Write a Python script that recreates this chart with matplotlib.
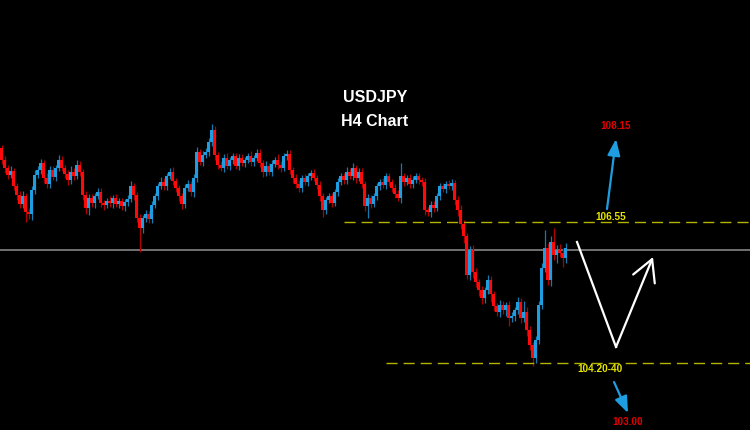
import matplotlib
matplotlib.use("Agg")
import matplotlib.pyplot as plt
import numpy as np

# ---------------- data (USDJPY H4, prices) ----------------
first_open = 107.73
closes = [
    107.54, 107.41, 107.30, 107.36, 107.12, 106.98, 106.84, 106.96, 106.71, 106.68,
    107.06, 107.30, 107.38, 107.49, 107.25, 107.16, 107.38, 107.27, 107.41, 107.54,
    107.41, 107.32, 107.22, 107.35, 107.28, 107.46, 107.35, 106.98, 106.77, 106.93,
    106.85, 106.96, 107.03, 106.85, 106.82, 106.88, 106.85, 106.93, 106.84, 106.88,
    106.80, 106.87, 106.92, 107.12, 106.98, 106.61, 106.45, 106.61, 106.68, 106.60,
    106.82, 106.96, 107.12, 107.19, 107.12, 107.28, 107.35, 107.20, 107.09, 106.96,
    106.84, 107.09, 107.16, 107.03, 107.25, 107.67, 107.51, 107.62, 107.67, 107.83,
    108.02, 107.62, 107.46, 107.41, 107.57, 107.44, 107.54, 107.60, 107.44, 107.57,
    107.49, 107.54, 107.60, 107.51, 107.57, 107.65, 107.49, 107.35, 107.44, 107.35,
    107.48, 107.54, 107.46, 107.41, 107.60, 107.64, 107.38, 107.25, 107.16, 107.09,
    107.25, 107.19, 107.28, 107.33, 107.25, 107.14, 106.96, 106.74, 106.90, 106.96,
    106.85, 107.03, 107.19, 107.28, 107.22, 107.35, 107.28, 107.41, 107.25, 107.35,
    107.16, 106.80, 106.93, 106.84, 106.96, 107.12, 107.19, 107.14, 107.28, 107.19,
    107.09, 107.00, 106.93, 107.28, 107.19, 107.25, 107.16, 107.22, 107.28, 107.22,
    107.19, 106.74, 106.71, 106.82, 106.77, 106.96, 107.12, 107.08, 107.16, 107.12,
    107.17, 106.90, 106.74, 106.52, 106.32, 105.70, 106.10, 105.75, 105.59, 105.46,
    105.33, 105.46, 105.62, 105.40, 105.20, 105.11, 105.22, 105.14, 105.22, 105.01,
    105.04, 105.14, 105.27, 105.01, 105.11, 104.82, 104.58, 104.37, 104.66, 105.22,
    105.81, 106.13, 105.62, 106.23, 106.02, 106.10, 106.05, 105.97, 106.13,
]
wick_up = [
    0.05, 0.06, 0.05, 0.08, 0.06, 0.05, 0.06, 0.08, 0.06, 0.06,
    0.06, 0.08, 0.06, 0.06, 0.05, 0.08, 0.06, 0.06, 0.05, 0.08,
    0.06, 0.05, 0.06, 0.09, 0.06, 0.08, 0.06, 0.05, 0.06, 0.06,
    0.06, 0.05, 0.06, 0.06, 0.05, 0.06, 0.08, 0.05, 0.06, 0.05,
    0.06, 0.05, 0.06, 0.08, 0.06, 0.05, 0.06, 0.05, 0.06, 0.05,
    0.06, 0.05, 0.06, 0.08, 0.06, 0.05, 0.06, 0.08, 0.06, 0.05,
    0.05, 0.06, 0.06, 0.05, 0.06, 0.08, 0.05, 0.06, 0.06, 0.06,
    0.10, 0.06, 0.05, 0.06, 0.06, 0.08, 0.05, 0.06, 0.05, 0.06,
    0.06, 0.05, 0.06, 0.08, 0.05, 0.06, 0.06, 0.05, 0.08, 0.06,
    0.06, 0.05, 0.10, 0.06, 0.05, 0.06, 0.06, 0.05, 0.06, 0.06,
    0.05, 0.06, 0.06, 0.05, 0.06, 0.05, 0.06, 0.06, 0.05, 0.06,
    0.06, 0.05, 0.06, 0.06, 0.05, 0.08, 0.06, 0.08, 0.05, 0.06,
    0.06, 0.05, 0.06, 0.05, 0.06, 0.06, 0.05, 0.06, 0.06, 0.05,
    0.05, 0.06, 0.06, 0.21, 0.06, 0.05, 0.06, 0.06, 0.05, 0.06,
    0.05, 0.06, 0.05, 0.06, 0.06, 0.05, 0.06, 0.06, 0.05, 0.06,
    0.06, 0.05, 0.06, 0.08, 0.06, 0.05, 0.06, 0.08, 0.06, 0.05,
    0.06, 0.05, 0.08, 0.06, 0.05, 0.06, 0.08, 0.06, 0.05, 0.06,
    0.06, 0.05, 0.08, 0.06, 0.18, 0.08, 0.06, 0.05, 0.06, 0.06,
    0.08, 0.29, 0.08, 0.10, 0.22, 0.08, 0.10, 0.08, 0.08,
]
wick_dn = [
    0.06, 0.08, 0.06, 0.05, 0.06, 0.08, 0.06, 0.06, 0.16, 0.09,
    0.10, 0.06, 0.05, 0.06, 0.08, 0.06, 0.06, 0.05, 0.06, 0.05,
    0.05, 0.06, 0.08, 0.06, 0.06, 0.05, 0.06, 0.08, 0.10, 0.11,
    0.06, 0.08, 0.05, 0.06, 0.08, 0.05, 0.06, 0.08, 0.05, 0.06,
    0.06, 0.08, 0.06, 0.05, 0.08, 0.06, 0.38, 0.08, 0.06, 0.06,
    0.06, 0.05, 0.06, 0.05, 0.06, 0.06, 0.05, 0.06, 0.06, 0.08,
    0.09, 0.06, 0.05, 0.06, 0.08, 0.06, 0.05, 0.06, 0.05, 0.06,
    0.06, 0.08, 0.06, 0.05, 0.06, 0.05, 0.06, 0.06, 0.05, 0.06,
    0.05, 0.06, 0.05, 0.06, 0.06, 0.05, 0.06, 0.08, 0.06, 0.05,
    0.06, 0.05, 0.06, 0.06, 0.05, 0.06, 0.06, 0.08, 0.06, 0.06,
    0.06, 0.05, 0.06, 0.06, 0.05, 0.06, 0.08, 0.11, 0.06, 0.05,
    0.06, 0.05, 0.06, 0.05, 0.06, 0.06, 0.05, 0.06, 0.08, 0.05,
    0.06, 0.08, 0.18, 0.06, 0.05, 0.06, 0.06, 0.05, 0.06, 0.06,
    0.06, 0.06, 0.05, 0.08, 0.06, 0.05, 0.06, 0.06, 0.05, 0.06,
    0.06, 0.08, 0.06, 0.08, 0.06, 0.05, 0.06, 0.05, 0.06, 0.05,
    0.06, 0.08, 0.10, 0.09, 0.10, 0.06, 0.08, 0.09, 0.08, 0.10,
    0.10, 0.08, 0.06, 0.13, 0.08, 0.06, 0.08, 0.06, 0.10, 0.13,
    0.06, 0.08, 0.06, 0.08, 0.06, 0.09, 0.08, 0.13, 0.08, 0.06,
    0.06, 0.06, 0.08, 0.10, 0.08, 0.13, 0.06, 0.14, 0.08,
]

title_lines = ["USDJPY", "H4 Chart"]
resistance = 106.55
support = 104.30
current_price = 106.10
label_resistance = "106.55"
label_support = "104.20-40"
label_up_target = "108.15"
label_down_target = "103.00"

# ---------------- derived OHLC ----------------
closes = np.array(closes)
opens = np.concatenate([[first_open], closes[:-1]])
highs = np.maximum(opens, closes) + np.array(wick_up)
lows = np.minimum(opens, closes) - np.array(wick_dn)
n = len(closes)
idx = np.arange(n)
up = closes >= opens

BLUE = "#1e9ee0"
RED = "#ff0a0a"
BLUE_W = "#137bb0"
RED_W = "#b00000"

fig = plt.figure(figsize=(7.5, 4.3), dpi=100, facecolor="black")
ax = fig.add_axes([0, 0, 1, 1])
ax.set_facecolor("black")
ax.set_xlim(-0.5, 249.5)
ax.set_ylim(103.22, 110.10)
ax.axis("off")

# current price line
ax.axhline(current_price, color="#7a7a7a", lw=1.3, zorder=1)

# wicks
ax.vlines(idx[up], lows[up], highs[up], color=BLUE_W, lw=0.9, zorder=2)
ax.vlines(idx[~up], lows[~up], highs[~up], color=RED_W, lw=0.9, zorder=2)

# bodies
body_bottom = np.minimum(opens, closes)
body_h = np.maximum(np.abs(closes - opens), 0.018)
ax.bar(idx[up], body_h[up], bottom=body_bottom[up], width=0.8,
       color=BLUE, linewidth=0, zorder=3)
ax.bar(idx[~up], body_h[~up], bottom=body_bottom[~up], width=0.8,
       color=RED, linewidth=0, zorder=3)

# support / resistance dashed lines
YEL = "#b4b400"
l1, = ax.plot([114, 249.5], [resistance, resistance], color=YEL, lw=1.0, zorder=2)
l1.set_dashes((8, 4.3))
l2, = ax.plot([128, 249.5], [support, support], color=YEL, lw=1.0, zorder=2)
l2.set_dashes((8, 4.3))

# helper: pixel -> figure fraction
W, H = 750.0, 430.0
def fp(x, y):
    return (x / W, 1 - y / H)

font = dict(family=["Liberation Sans", "DejaVu Sans"], weight="bold")

# title
fig.text(*fp(375, 98), title_lines[0], color="white", fontsize=11.5,
         ha="center", va="center", **font)
fig.text(*fp(375, 122), title_lines[1], color="white", fontsize=11.5,
         ha="center", va="center", **font)

# level labels
fig.text(*fp(611, 217), label_resistance, color="#e6e600", fontsize=7.2,
         ha="center", va="center", **font)
fig.text(*fp(600, 369), label_support, color="#e6e600", fontsize=7.2,
         ha="center", va="center", **font)
fig.text(*fp(616, 126), label_up_target, color="#e00000", fontsize=7.2,
         ha="center", va="center", **font)
fig.text(*fp(628, 422), label_down_target, color="#e00000", fontsize=7.2,
         ha="center", va="center", **font)

# blue arrows
ax.annotate("", xy=fp(616, 139), xytext=fp(607, 209),
            xycoords="figure fraction", textcoords="figure fraction",
            arrowprops=dict(arrowstyle="-|>,head_length=0.9,head_width=0.35",
                            color=BLUE, lw=1.6, mutation_scale=11,
                            shrinkA=0, shrinkB=0))
ax.annotate("", xy=fp(628, 413), xytext=fp(614, 382),
            xycoords="figure fraction", textcoords="figure fraction",
            arrowprops=dict(arrowstyle="-|>,head_length=0.9,head_width=0.35",
                            color=BLUE, lw=1.6, mutation_scale=11,
                            shrinkA=0, shrinkB=0))

# white V projection
p0, p1, p2 = fp(577, 242), fp(616, 347), fp(653, 257)
fig.lines.append(plt.Line2D([p0[0], p1[0]], [p0[1], p1[1]],
                            transform=fig.transFigure, color="white", lw=1.6))
ax.annotate("", xy=p2, xytext=p1,
            xycoords="figure fraction", textcoords="figure fraction",
            arrowprops=dict(arrowstyle="->,head_length=1.1,head_width=0.6",
                            color="white", lw=1.6, mutation_scale=14,
                            shrinkA=0, shrinkB=0))

fig.savefig("out.png", dpi=100, facecolor="black")
